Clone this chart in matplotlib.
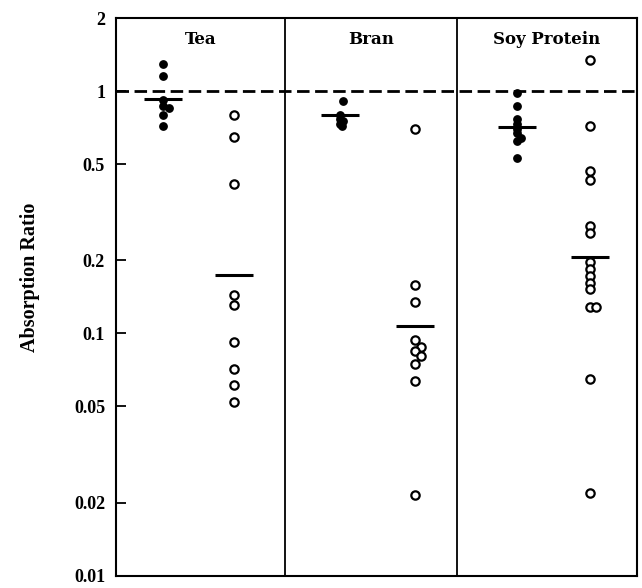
import matplotlib
matplotlib.use('Agg')
import matplotlib.pyplot as plt
import numpy as np

panels = ['Tea', 'Bran', 'Soy Protein']

# absorption ratios (filled = first column, open = second column)
tea_filled = [1.29, 1.16, 0.92, 0.87, 0.85, 0.80, 0.72]
tea_open = [0.80, 0.645, 0.413, 0.144, 0.131, 0.092, 0.071, 0.061, 0.052]
bran_filled = [0.91, 0.80, 0.77, 0.75, 0.73, 0.72]
bran_open = [0.70, 0.159, 0.135, 0.094, 0.088, 0.085, 0.081, 0.0745, 0.0635, 0.0215]
soy_filled = [0.98, 0.87, 0.77, 0.73, 0.70, 0.67, 0.64, 0.62, 0.53]
soy_open = [1.35, 0.715, 0.47, 0.43, 0.277, 0.259, 0.197, 0.184, 0.172, 0.162,
            0.152, 0.129, 0.129, 0.065, 0.022]

filled_means = [0.926, 0.796, 0.708]
open_means = [0.174, 0.107, 0.207]

yticks = [0.01, 0.02, 0.05, 0.1, 0.2, 0.5, 1, 2]
ytick_labels = ['0.01', '0.02', '0.05', '0.1', '0.2', '0.5', '1', '2']

# horizontal nudges (in marker widths) for overlapping points
tea_filled_dx = [0, 0, 0, 0, 1, 0, 0]
tea_open_dx = [0] * len(tea_open)
bran_filled_dx = [0.5, 0, 0, 0.5, 0, 0.3]
bran_open_dx = [0, 0, 0, 0, 1, 0, 1, 0, 0, 0]
soy_filled_dx = [0, 0, 0, 0, 0, 0, 0.6, 0, 0]
soy_open_dx = [0] * 11 + [0, 1, 0, 0]

filled = [tea_filled, bran_filled, soy_filled]
opened = [tea_open, bran_open, soy_open]
filled_dx = [tea_filled_dx, bran_filled_dx, soy_filled_dx]
open_dx = [tea_open_dx, bran_open_dx, soy_open_dx]

edges = [0, 0.973, 1.963, 3.0]
filled_x = [0.27, 1.29, 2.31]
open_x = [0.68, 1.72, 2.73]
nudge = 0.037
half = 0.11

plt.rcParams['font.family'] = 'Liberation Serif'
plt.rcParams['font.weight'] = 'bold'

fig = plt.figure(figsize=(6.42, 5.88), dpi=100)
ax = fig.add_axes([0.181, 0.021, 0.811, 0.948])

for i in range(3):
    xs = filled_x[i] + nudge * np.array(filled_dx[i])
    ax.plot(xs, filled[i], 'o', color='black', markersize=5.3, zorder=3)
    xs = open_x[i] + nudge * np.array(open_dx[i])
    ax.plot(xs, opened[i], 'o', markerfacecolor='white', markeredgecolor='black',
            markersize=6, markeredgewidth=1.6, zorder=3)
    ax.hlines(filled_means[i], filled_x[i] - half, filled_x[i] + half,
              color='black', lw=2.2, zorder=4)
    ax.hlines(open_means[i], open_x[i] - half, open_x[i] + half,
              color='black', lw=2.2, zorder=4)
    ax.text((edges[i] + edges[i + 1]) / 2, 1.63, panels[i], ha='center', va='center',
            fontsize=12, fontweight='bold', family='DejaVu Serif')

for e in edges[1:-1]:
    ax.axvline(e, color='black', lw=1.3)

ax.axhline(1, color='black', lw=2, linestyle=(0, (4.5, 2)))

ax.set_yscale('log')
ax.set_ylim(0.01, 2.0)
ax.set_xlim(0, 3)
ax.set_yticks(yticks)
ax.set_yticklabels(ytick_labels)
ax.yaxis.set_minor_locator(matplotlib.ticker.NullLocator())
ax.set_xticks([])
ax.tick_params(axis='y', direction='in', length=7, width=1.3, labelsize=13, pad=8)
for s in ax.spines.values():
    s.set_linewidth(1.5)

ax.set_ylabel('Absorption Ratio', fontsize=14.5, fontweight='bold')
ax.yaxis.set_label_coords(-0.146, 0.536)

fig.savefig('out.png', dpi=100)
